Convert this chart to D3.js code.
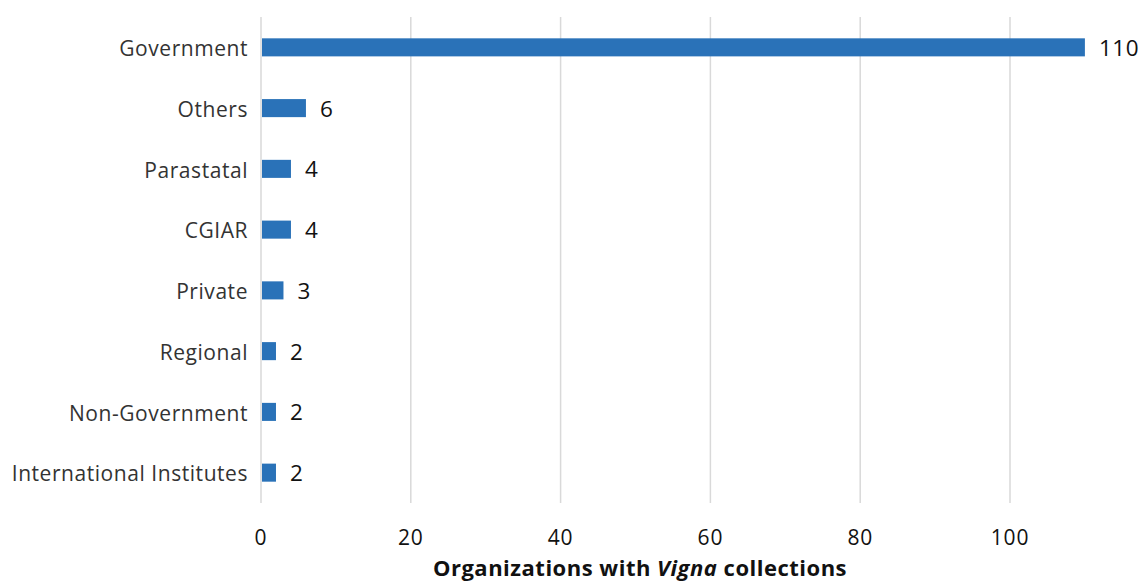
<!DOCTYPE html>
<html><head><meta charset="utf-8">
<script src="https://cdn.jsdelivr.net/npm/d3@7"></script>
<style>body{margin:0;background:#fff}svg{display:block}text{font-family:"Open Sans","Noto Sans",sans-serif}</style>
</head><body><svg id="c" width="1141" height="583"></svg>
<script>
const categories = ["Government","Others","Parastatal","CGIAR","Private","Regional","Non-Government","International Institutes"];
const values = [110,6,4,4,3,2,2,2];
const tickValues = [0,20,40,60,80,100];

(function(){
const svg = d3.select("#c");
const pL = 261, pT = 17, pB = 503;
const unit = (1010-261)/100;
const x = d3.scaleLinear().domain([0,110]).range([pL, pL + unit*110]);
const y = d3.scaleBand().domain(categories).range([pT,pB]).paddingInner(0.703).paddingOuter(0.351);

svg.append("g").selectAll("line").data(tickValues).join("line")
  .attr("x1",d=>x(d)).attr("x2",d=>x(d)).attr("y1",pT).attr("y2",pB)
  .attr("stroke","#d9d9d9").attr("stroke-width",1.5);

svg.append("g").selectAll("rect").data(values).join("rect")
  .attr("x",x(0)+1).attr("y",(d,i)=>y(categories[i]))
  .attr("width",d=>x(d)-x(0)-1).attr("height",y.bandwidth())
  .attr("fill","#2a72b8");

svg.append("g").selectAll("text").data(values).join("text")
  .attr("x",d=>x(d)+14).attr("y",(d,i)=>y(categories[i])+y.bandwidth()/2)
  .attr("dy","0.38em").attr("font-size",22.5).attr("letter-spacing",0.6).attr("fill","#111").text(d=>d);

svg.append("g").selectAll("text").data(categories).join("text")
  .attr("x",248).attr("y",d=>y(d)+y.bandwidth()/2).attr("dy","0.42em")
  .attr("text-anchor","end").attr("font-size",21).attr("letter-spacing",0.55).attr("fill","#333").text(d=>d);

svg.append("g").selectAll("text").data(tickValues).join("text")
  .attr("x",d=>x(d)).attr("y",545).attr("text-anchor","middle")
  .attr("font-size",21).attr("letter-spacing",0.8).attr("fill","#111").text(d=>d);

const t = svg.append("text").attr("x",640).attr("y",576).attr("text-anchor","middle")
  .attr("font-size",22).attr("letter-spacing",0.5).attr("font-weight","bold").attr("fill","#111");
t.append("tspan").text("Organizations with ");
t.append("tspan").attr("font-style","italic").text("Vigna");
t.append("tspan").text(" collections");
})();
</script></body></html>
